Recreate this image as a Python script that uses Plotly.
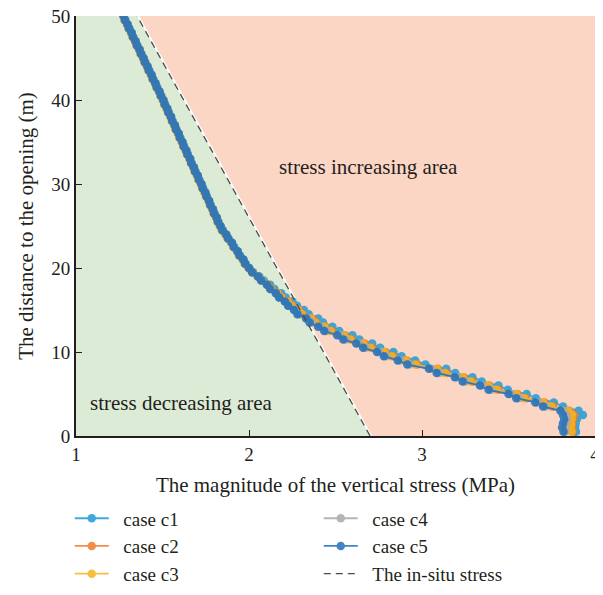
import plotly.graph_objects as go

# depth (m) from 50 down to 0.5, step 0.5
depth = [50 - 0.5 * i for i in range(100)]

case_c1 = [1.277,1.286,1.299,1.309,1.322,1.332,1.345,1.355,1.368,1.378,
           1.391,1.401,1.414,1.424,1.437,1.447,1.460,1.470,1.483,1.493,
           1.506,1.515,1.528,1.537,1.550,1.559,1.572,1.581,1.594,1.603,
           1.616,1.625,1.638,1.647,1.660,1.669,1.682,1.691,1.704,1.713,
           1.726,1.735,1.748,1.757,1.770,1.779,1.792,1.801,1.814,1.823,
           1.836,1.849,1.869,1.882,1.902,1.915,1.935,1.948,1.968,1.981,
           2.002,2.024,2.060,2.085,2.122,2.147,2.186,2.212,2.252,2.278,
           2.318,2.345,2.400,2.428,2.482,2.522,2.598,2.638,2.712,2.758,
           2.835,2.882,2.960,3.020,3.140,3.192,3.292,3.345,3.442,3.496,
           3.605,3.658,3.762,3.815,3.905,3.930,3.895,3.888,3.885,3.890]

case_c2 = [1.274,1.282,1.296,1.305,1.319,1.328,1.342,1.351,1.365,1.374,
           1.388,1.397,1.411,1.420,1.434,1.443,1.457,1.466,1.480,1.489,
           1.502,1.511,1.524,1.533,1.546,1.555,1.568,1.577,1.590,1.599,
           1.612,1.621,1.634,1.643,1.656,1.665,1.678,1.687,1.700,1.709,
           1.722,1.731,1.744,1.753,1.766,1.775,1.788,1.797,1.810,1.819,
           1.832,1.844,1.865,1.877,1.898,1.910,1.931,1.943,1.964,1.976,
           1.998,2.019,2.053,2.076,2.111,2.134,2.170,2.193,2.230,2.252,
           2.290,2.312,2.365,2.390,2.442,2.480,2.556,2.594,2.668,2.712,
           2.790,2.835,2.912,2.972,3.092,3.142,3.242,3.292,3.390,3.442,
           3.552,3.602,3.708,3.758,3.852,3.880,3.872,3.868,3.866,3.870]

case_c3 = [1.273,1.281,1.295,1.304,1.318,1.327,1.341,1.350,1.364,1.373,
           1.387,1.396,1.410,1.419,1.433,1.442,1.456,1.465,1.479,1.488,
           1.501,1.510,1.523,1.532,1.545,1.554,1.567,1.576,1.589,1.598,
           1.611,1.620,1.633,1.642,1.655,1.664,1.677,1.686,1.699,1.708,
           1.721,1.730,1.743,1.752,1.765,1.774,1.787,1.796,1.809,1.818,
           1.831,1.843,1.864,1.876,1.897,1.909,1.930,1.942,1.963,1.975,
           1.997,2.017,2.050,2.072,2.106,2.128,2.164,2.186,2.222,2.245,
           2.282,2.305,2.358,2.382,2.435,2.472,2.548,2.585,2.660,2.702,
           2.782,2.825,2.905,2.962,3.085,3.132,3.235,3.282,3.382,3.432,
           3.545,3.592,3.700,3.748,3.845,3.868,3.865,3.862,3.860,3.865]

case_c4 = [1.276,1.285,1.297,1.308,1.320,1.331,1.343,1.354,1.366,1.377,
           1.389,1.400,1.412,1.423,1.435,1.446,1.458,1.469,1.481,1.492,
           1.504,1.514,1.526,1.536,1.548,1.558,1.570,1.580,1.592,1.602,
           1.614,1.624,1.636,1.646,1.658,1.668,1.680,1.690,1.702,1.712,
           1.724,1.734,1.746,1.756,1.768,1.778,1.790,1.800,1.812,1.822,
           1.834,1.848,1.866,1.881,1.899,1.914,1.932,1.947,1.965,1.980,
           1.998,2.020,2.050,2.072,2.102,2.124,2.154,2.176,2.206,2.230,
           2.265,2.290,2.340,2.365,2.415,2.450,2.525,2.560,2.635,2.675,
           2.755,2.795,2.875,2.930,3.055,3.100,3.205,3.250,3.350,3.400,
           3.515,3.560,3.670,3.715,3.815,3.835,3.838,3.832,3.826,3.830]

case_c5 = [1.275,1.283,1.298,1.306,1.321,1.329,1.344,1.352,1.367,1.375,
           1.390,1.398,1.413,1.421,1.436,1.444,1.459,1.467,1.482,1.490,
           1.505,1.512,1.527,1.534,1.549,1.556,1.571,1.578,1.593,1.600,
           1.615,1.622,1.637,1.644,1.659,1.666,1.681,1.688,1.703,1.710,
           1.725,1.732,1.747,1.754,1.769,1.776,1.791,1.798,1.813,1.820,
           1.835,1.846,1.868,1.879,1.901,1.912,1.934,1.945,1.967,1.978,
           2.000,2.018,2.052,2.070,2.104,2.122,2.156,2.174,2.208,2.226,
           2.260,2.280,2.330,2.350,2.400,2.435,2.510,2.545,2.620,2.660,
           2.740,2.780,2.860,2.915,3.040,3.085,3.190,3.235,3.335,3.385,
           3.500,3.545,3.655,3.700,3.800,3.815,3.822,3.815,3.810,3.818]

insitu_depth = [0, 50]
insitu_stress = [2.70, 1.353]

x_range = [1, 4]
y_range = [0, 50]
x_ticks = [1, 2, 3, 4]
y_ticks = [0, 10, 20, 30, 40, 50]

cases = [
    ("case c1", case_c1, "#1f9bd7", 1),
    ("case c2", case_c2, "#f07a2d", 3),
    ("case c3", case_c3, "#f7b41c", 5),
    ("case c4", case_c4, "#a9a9ad", 2),
    ("case c5", case_c5, "#1f6fb8", 4),
]

FONT = "Liberation Serif"
TXT = "#231f20"
PAD = "\u00a0\u00a0"  # small gap between legend symbol and its text

fig = go.Figure()

# shaded areas bounded by the in-situ stress line
fig.add_trace(go.Scatter(
    x=[x_range[0], x_range[0], insitu_stress[1], insitu_stress[0]],
    y=[y_range[0], y_range[1], insitu_depth[1], insitu_depth[0]],
    fill="toself", fillcolor="#dcebd5", line=dict(width=0),
    mode="lines", showlegend=False, hoverinfo="skip"))
fig.add_trace(go.Scatter(
    x=[insitu_stress[1] + 0.012, x_range[1], x_range[1], insitu_stress[0] + 0.012],
    y=[insitu_depth[1], y_range[1], y_range[0], insitu_depth[0]],
    fill="toself", fillcolor="#fcd6c4", line=dict(width=0),
    mode="lines", showlegend=False, hoverinfo="skip"))

for name, vals, color, rank in cases:
    fig.add_trace(go.Scatter(
        x=vals, y=depth, name=PAD + name, mode="lines+markers",
        line=dict(color=color, width=1.8),
        marker=dict(color=color, size=8.5),
        opacity=0.85, legendrank=rank))

fig.add_trace(go.Scatter(
    x=insitu_stress, y=insitu_depth, name=PAD + "The in-situ stress", mode="lines",
    line=dict(color="#4a4a4a", width=1.3, dash="7px,5px"), legendrank=6))

fig.add_annotation(x=2.69, y=32, text="stress increasing area", showarrow=False,
                   font=dict(family=FONT, size=21, color=TXT))
fig.add_annotation(x=1.61, y=3.9, text="stress decreasing area", showarrow=False,
                   font=dict(family=FONT, size=21, color=TXT))

axis_common = dict(showgrid=False, zeroline=False, showline=True,
                   linecolor="#231f20", linewidth=2, ticks="inside",
                   ticklen=6, tickwidth=1, tickcolor="#231f20", automargin=False,
                   ticklabeloverflow="allow",
                   tickfont=dict(family=FONT, size=19, color=TXT))

fig.update_xaxes(range=x_range, tickvals=x_ticks,
                 title=dict(text="The magnitude of the vertical stress (MPa)",
                            font=dict(family=FONT, size=21, color=TXT), standoff=14),
                 **axis_common)
fig.update_yaxes(range=y_range, tickvals=y_ticks,
                 title=dict(text="The distance to the opening (m)",
                            font=dict(family=FONT, size=21, color=TXT), standoff=12),
                 **axis_common)

# page body has an 8px margin, so the figure is offset by 8px
fig.update_layout(
    width=595, height=579,
    margin=dict(l=68, r=8, t=8, b=151, autoexpand=False),
    plot_bgcolor="white", paper_bgcolor="white",
    showlegend=True,
    legend=dict(orientation="h", x=-0.012, xanchor="left", y=-0.151, yanchor="top",
                entrywidth=200, itemwidth=34,
                font=dict(family=FONT, size=19, color=TXT),
                bgcolor="rgba(0,0,0,0)", traceorder="normal"),
)

fig.write_html("out.html")
